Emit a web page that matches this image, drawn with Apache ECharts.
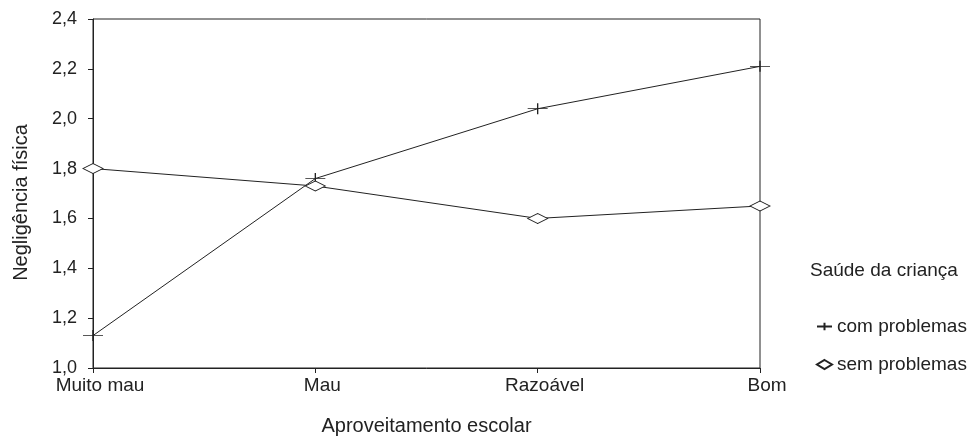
<!DOCTYPE html>
<html>
<head>
<meta charset="utf-8">
<script src="https://cdn.jsdelivr.net/npm/echarts@6/dist/echarts.min.js"></script>
<style>
  html, body { margin: 0; padding: 0; background: #fff; }
  #chart { width: 974px; height: 437px; }
</style>
</head>
<body>
<div id="chart"></div>
<script>
// categorias do eixo x
var categorias = ['Muito mau', 'Mau', 'Razoável', 'Bom'];
// médias
var comProblemas = [1.13, 1.76, 2.04, 2.21];
var semProblemas = [1.80, 1.73, 1.60, 1.65];

var tinta = '#222222';
var fonte = 'Liberation Sans, Arial, sans-serif';

// símbolos: + achatado e losango vazado
var simboloMais = 'path://M0,5L20,5M10,0L10,10';

var chart = echarts.init(document.getElementById('chart'));
chart.setOption({
    backgroundColor: '#fff',
    animation: false,
    textStyle: { fontFamily: fonte, color: tinta },
    grid: {
        left: 93,
        right: 214,
        top: 19,
        bottom: 69,
        outerBoundsMode: 'none',
        show: true,
        borderColor: tinta,
        borderWidth: 1
    },
    legend: {
        orient: 'vertical',
        left: 811,
        top: 312,
        itemGap: 19,
        itemWidth: 15,
        itemHeight: 9,
        textStyle: { fontFamily: fonte, fontSize: 19, color: tinta },
        data: [
            { name: 'com problemas', icon: simboloMais },
            { name: 'sem problemas', icon: 'diamond' }
        ]
    },
    graphic: [
        {
            type: 'text',
            left: 810,
            top: 261,
            style: { text: 'Saúde da criança', fontFamily: fonte, fontSize: 19, fill: tinta }
        }
    ],
    xAxis: {
        type: 'category',
        boundaryGap: false,
        data: categorias,
        name: 'Aproveitamento escolar',
        nameLocation: 'middle',
        nameGap: 48,
        nameTextStyle: { fontFamily: fonte, fontSize: 20, color: tinta },
        axisLine: { lineStyle: { color: tinta, width: 1 } },
        axisTick: { inside: false, length: 5, lineStyle: { color: tinta } },
        axisLabel: {
            fontFamily: fonte,
            fontSize: 19,
            color: tinta,
            margin: 8,
            padding: [0, 0, 0, 14]
        },
        splitLine: { show: false }
    },
    yAxis: {
        type: 'value',
        min: 1.0,
        max: 2.4,
        interval: 0.2,
        name: 'Negligência física',
        nameLocation: 'middle',
        nameGap: 62,
        nameTextStyle: { fontFamily: fonte, fontSize: 20, color: tinta, padding: [0, 18, 0, 0] },
        axisLine: { show: true, lineStyle: { color: tinta, width: 1 } },
        axisTick: { show: true, inside: false, length: 5, lineStyle: { color: tinta } },
        axisLabel: {
            fontFamily: fonte,
            fontSize: 18,
            color: tinta,
            margin: 16,
            formatter: function (v) { return v.toFixed(1).replace('.', ','); }
        },
        splitLine: { show: false }
    },
    series: [
        {
            name: 'com problemas',
            type: 'line',
            data: comProblemas,
            symbol: simboloMais,
            symbolSize: [20, 11],
            lineStyle: { color: tinta, width: 1 },
            itemStyle: { color: 'transparent', borderColor: tinta, borderWidth: 1 }
        },
        {
            name: 'sem problemas',
            type: 'line',
            data: semProblemas,
            symbol: 'diamond',
            symbolSize: [20, 10],
            lineStyle: { color: tinta, width: 1 },
            itemStyle: { color: '#fff', borderColor: tinta, borderWidth: 1 }
        }
    ]
});
</script>
</body>
</html>
